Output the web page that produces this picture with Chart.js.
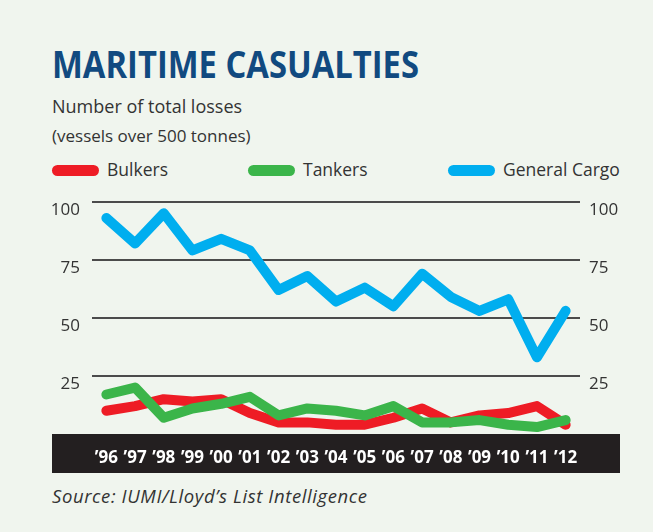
<!DOCTYPE html>
<html>
<head>
<meta charset="utf-8">
<script src="https://cdn.jsdelivr.net/npm/chart.js@4.4.1/dist/chart.umd.min.js"></script>
<style>
    html, body { margin: 0; padding: 0; }
    body { width: 653px; height: 532px; background: #f0f5ee; position: relative; overflow: hidden; font-family: "Open Sans", sans-serif; color: #333; }
    .txt { position: absolute; left: 52px; white-space: nowrap; }
    #title { top: 45px; font-size: 37px; line-height: 37px; font-weight: 700; color: #114a80; transform: scaleX(0.885); transform-origin: left top; }
    #sub1 { top: 97px; font-size: 18px; line-height: 18px; }
    #sub2 { top: 127px; font-size: 17px; line-height: 17px; }
    #source { top: 487px; font-size: 18.5px; line-height: 18px; font-style: italic; letter-spacing: 0.6px; }
    .leg { position: absolute; top: 160px; font-size: 17.5px; line-height: 18px; white-space: nowrap; }
    .leg span { position: absolute; top: 5px; width: 47px; height: 11px; border-radius: 6px; }
    #wrap { position: absolute; left: 0; top: 0; width: 653px; height: 532px; }
</style>
</head>
<body>
<div class="txt" id="title">MARITIME CASUALTIES</div>
<div class="txt" id="sub1">Number of total losses</div>
<div class="txt" id="sub2">(vessels over 500 tonnes)</div>
<div id="legend"></div>
<div class="txt" id="source">Source: IUMI/Lloyd’s List Intelligence</div>
<div id="wrap"><canvas id="chart"></canvas></div>
<script>
    // data
    var years = ["’96", "’97", "’98", "’99", "’00", "’01", "’02", "’03", "’04", "’05", "’06", "’07", "’08", "’09", "’10", "’11", "’12"];
    var bulkers = [10, 12, 15, 14, 15, 9, 5, 5, 4, 4, 7, 11, 5, 8, 9, 12, 4];
    var tankers = [17, 20, 7, 11, 13, 16, 8, 11, 10, 8, 12, 5, 5, 6, 4, 3, 6];
    var generalCargo = [93, 82, 95, 79, 84, 79, 62, 68, 57, 63, 55, 69, 59, 53, 58, 33, 53];
    var seriesNames = ["Bulkers", "Tankers", "General Cargo"];
    var seriesColors = ["#ee1c25", "#3bb54a", "#00aeef"];
    var yTicks = [25, 50, 75, 100];

    // legend, placed like the original
    var legendX = [52, 248, 448];
    var legendHtml = "";
    for (var i = 0; i < seriesNames.length; i++) {
        legendHtml += '<div class="leg" style="left:' + legendX[i] + 'px"><span style="left:0;background:' + seriesColors[i] + '"></span>' +
                '<b style="font-weight:400;margin-left:55px">' + seriesNames[i] + '</b></div>';
    }
    document.getElementById("legend").innerHTML = legendHtml;

    var bandPlugin = {
        id: "band",
        beforeDraw: function (chart) {
            var ctx = chart.ctx;
            ctx.save();
            ctx.fillStyle = "#231f20";
            ctx.fillRect(52, chart.chartArea.bottom, 568, 39);
            ctx.restore();
        }
    };

    var lineSet = function (idx, values, order) {
        return {
            label: seriesNames[idx],
            data: values,
            borderColor: seriesColors[idx],
            backgroundColor: seriesColors[idx],
            borderWidth: 10,
            borderJoinStyle: "round",
            borderCapStyle: "round",
            pointRadius: 0,
            tension: 0,
            fill: false,
            order: order
        };
    };

    var tickFont = {family: "'Open Sans', sans-serif", size: 17};

    new Chart(document.getElementById("chart").getContext("2d"), {
        type: "line",
        data: {
            labels: years,
            datasets: [lineSet(0, bulkers, 3), lineSet(1, tankers, 2), lineSet(2, generalCargo, 1)]
        },
        plugins: [bandPlugin],
        options: {
            responsive: true,
            maintainAspectRatio: false,
            animation: false,
            layout: {padding: {top: 201.7, left: 0, right: 0, bottom: 0}},
            plugins: {legend: {display: false}, tooltip: {enabled: false}},
            scales: {
                x: {
                    offset: true,
                    grid: {display: false},
                    border: {display: false},
                    ticks: {color: "#ffffff", font: {family: "'Open Sans', sans-serif", size: 17, weight: "bold"}, padding: 6, maxRotation: 0, autoSkip: false},
                    afterFit: function (scale) { scale.height = 98; }
                },
                y: {
                    position: "left",
                    min: 0,
                    max: 100,
                    afterBuildTicks: function (scale) { scale.ticks = yTicks.map(function (v) { return {value: v}; }); },
                    grid: {color: "#4b4b4b", lineWidth: 2, drawTicks: false},
                    border: {display: false},
                    ticks: {color: "#333333", font: tickFont, padding: 12, labelOffset: 8},
                    afterFit: function (scale) { scale.width = 92; }
                },
                y2: {
                    position: "right",
                    min: 0,
                    max: 100,
                    afterBuildTicks: function (scale) { scale.ticks = yTicks.map(function (v) { return {value: v}; }); },
                    grid: {display: false, drawTicks: false},
                    border: {display: false},
                    ticks: {color: "#333333", font: tickFont, padding: 9, labelOffset: 8},
                    afterFit: function (scale) { scale.width = 73; }
                }
            }
        }
    });
</script>
</body>
</html>
